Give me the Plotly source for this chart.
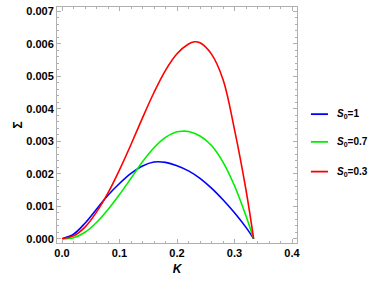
import plotly.graph_objects as go

# Data
k_blue = [0.0, 0.02, 0.04, 0.06, 0.08, 0.10, 0.12, 0.14, 0.16, 0.18, 0.20, 0.22, 0.24, 0.26, 0.28, 0.30, 0.32, 0.3333]
s_blue = [0.0, 0.00014, 0.00048, 0.00091, 0.00134, 0.00170, 0.00201, 0.00224, 0.00236, 0.00235, 0.00225,
          0.00209, 0.00186, 0.00156, 0.00120, 0.00080, 0.00035, 0.0]

k_green = [0.0, 0.02, 0.04, 0.06, 0.08, 0.10, 0.12, 0.14, 0.16, 0.18, 0.20, 0.21, 0.22, 0.24, 0.26, 0.28, 0.30, 0.32, 0.3333]
s_green = [0.0, 0.00003, 0.00020, 0.00050, 0.00090, 0.00136, 0.00186, 0.00237, 0.00280, 0.00312, 0.00329,
           0.00331, 0.00330, 0.00316, 0.00287, 0.00236, 0.00163, 0.00070, 0.0]

k_red = [0.0, 0.02, 0.04, 0.06, 0.08, 0.10, 0.12, 0.14, 0.16, 0.18, 0.20, 0.22, 0.23, 0.24, 0.26, 0.28, 0.30, 0.32, 0.3333]
s_red = [0.0, 0.00009, 0.00036, 0.00082, 0.00141, 0.00212, 0.00290, 0.00372, 0.00450, 0.00518, 0.00569,
         0.00599, 0.00606, 0.00603, 0.00568, 0.00490, 0.00336, 0.00150, 0.0]

names = ["<b><i>S</i><sub>0</sub>=1</b>", "<b><i>S</i><sub>0</sub>=0.7</b>", "<b><i>S</i><sub>0</sub>=0.3</b>"]
colors = ["#0000ff", "#00ee00", "#ff0000"]

fig = go.Figure()
for i, (k, s) in enumerate([(k_blue, s_blue), (k_green, s_green), (k_red, s_red)]):
    fig.add_trace(go.Scatter(x=k, y=s, mode="lines", name=names[i], showlegend=False,
                             line=dict(color=colors[i], width=1.6, shape="spline", smoothing=1.0)))

# Hand-made legend (short key lines as in the reference)
legend_y = [0.546, 0.4286, 0.3025]
for i in range(3):
    fig.add_shape(type="line", xref="paper", yref="paper", x0=1.058, x1=1.129,
                  y0=legend_y[i], y1=legend_y[i], line=dict(color=colors[i], width=1.8))
    fig.add_annotation(xref="paper", yref="paper", x=1.158, y=legend_y[i], xanchor="left", yanchor="middle",
                       text=names[i], showarrow=False,
                       font=dict(family="Liberation Sans", size=10, color="black"))

axis_common = dict(
    showline=True, linecolor="#b0b0b0", linewidth=1, mirror="ticks",
    ticks="inside", ticklen=4, tickcolor="#b0b0b0", tickwidth=1,
    showgrid=False, zeroline=False,
    tickfont=dict(family="Liberation Sans", size=11, color="black", weight="bold"),
)

fig.update_xaxes(range=[-0.0087, 0.4087], tickvals=[0.0, 0.1, 0.2, 0.3, 0.4],
                 ticktext=["0.0", "0.1", "0.2", "0.3", "0.4"],
                 minor=dict(dtick=0.02, ticks="inside", ticklen=2, tickcolor="#b0b0b0"),
                 title=dict(text="<b><i>K</i></b>", font=dict(family="Liberation Sans", size=12, color="black"), standoff=6),
                 **axis_common)
fig.update_yaxes(range=[-0.00013, 0.00713], tickvals=[0, 0.001, 0.002, 0.003, 0.004, 0.005, 0.006, 0.007],
                 ticktext=["0.000", "0.001", "0.002", "0.003", "0.004", "0.005", "0.006", "0.007"],
                 minor=dict(dtick=0.0002, ticks="inside", ticklen=2, tickcolor="#b0b0b0"),
                 title=dict(text="<b>Σ</b>", font=dict(family="Liberation Sans", size=12, color="black"), standoff=1),
                 **axis_common)

fig.update_layout(
    width=375, height=284,
    margin=dict(l=57, r=78, t=5, b=41),
    plot_bgcolor="white", paper_bgcolor="white",
    showlegend=False,
)

fig.write_html("out.html", config={"displayModeBar": False},
               post_script="document.body.style.margin='0';document.body.style.padding='0';")
